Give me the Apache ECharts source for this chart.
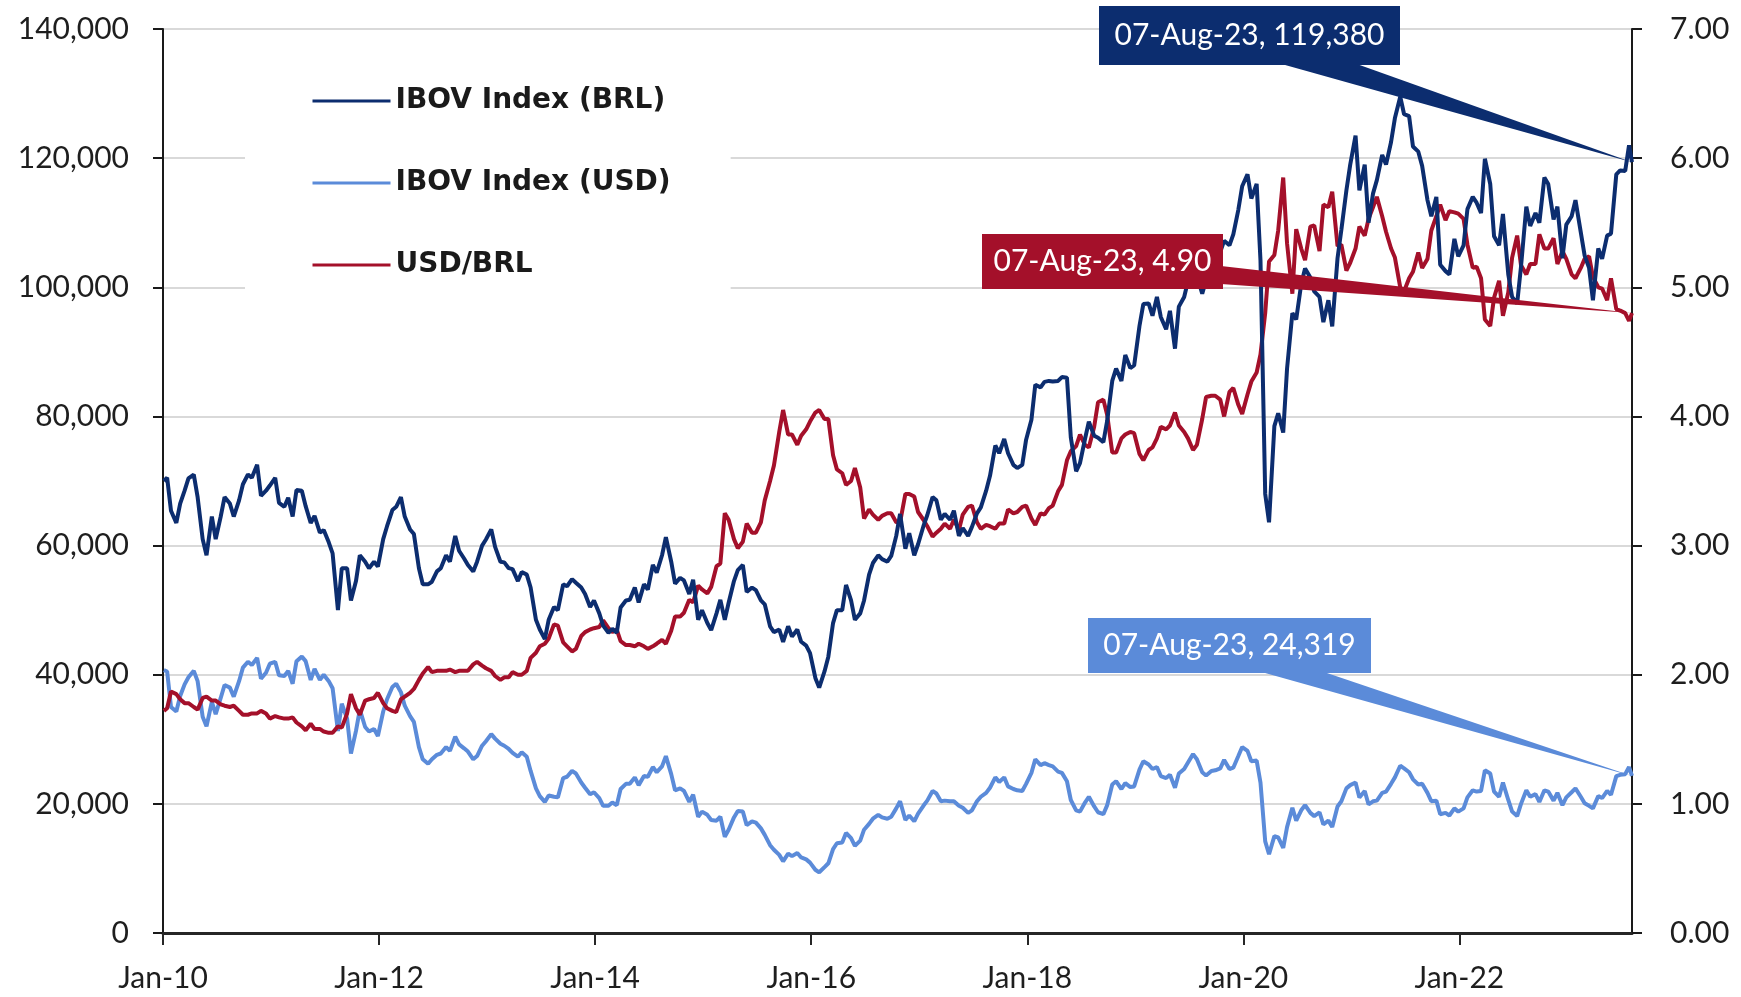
<!DOCTYPE html>
<html>
<head>
<meta charset="utf-8">
<script src="https://cdn.jsdelivr.net/npm/echarts@6/dist/echarts.min.js"></script>
<style>html,body{margin:0;padding:0;background:#fff}#c{width:1741px;height:997px}</style>
</head>
<body>
<div id="c"></div>
<script>
// ---- categories: semi-monthly observation dates ----
const startDate = '2010-01-04';
const endDate = '2023-08-07';
const dates = [startDate];
for (let y = 2010; y <= 2023; y++) {
  for (let m = 1; m <= 12; m++) {
    if (y === 2023 && m > 7) break;
    const mm = (m < 10 ? '0' : '') + m;
    dates.push(y + '-' + mm + '-15');
    dates.push(y + '-' + mm + '-28');
  }
}
dates.push(endDate);

// ---- series values ----
const ibovBRL = [70000,
70500,65400,63500,66500,68500,70400,71000,67500,61000,58500,64500,61000,64500,67500,66500,64500,67000,69500,71000,70500,72500,67700,68500,69300,
70500,66600,66000,67400,64500,68600,68500,66100,63500,64600,62000,62400,60500,58800,50000,56500,56500,51500,54500,58500,57500,56500,57500,56750,
61000,63000,65500,66000,67500,64500,62500,61800,56500,54000,54000,54400,56000,56500,58500,57500,61500,59200,58000,57000,56000,57500,60000,60950,
62500,59800,57500,57400,56500,56350,54500,55900,55500,53500,48500,47000,45500,48500,50500,50000,54000,53700,54800,54250,53500,52500,50500,51500,
49500,47600,46500,47100,46500,50400,51500,51600,53500,51200,54000,53200,57000,55800,58500,61300,57500,54100,55000,54600,52500,54700,48500,50000,
48000,46900,49500,51600,48500,51150,54500,56200,57000,52800,53500,53100,51500,50900,47500,46600,47000,45100,47500,45900,47000,45100,44500,43350,
39500,38000,40500,42800,48000,50000,50000,53900,51500,48500,49500,51500,55500,57300,58500,57900,57500,58400,61500,64900,59500,61900,58500,60200,
63000,64700,67500,67000,64000,64900,64000,65400,61500,62700,61500,62900,65000,65900,68500,70800,75500,74300,76500,74300,72500,72000,72500,76400,
79500,84900,84500,85350,85500,85400,85500,86100,86000,76750,71500,72760,76500,79200,77000,76700,76000,79340,85500,87400,85500,89500,87500,87900,
94000,97400,97500,95600,98500,95400,93500,96350,90500,97000,98500,100970,103500,101800,99000,101100,104500,104700,105500,107200,106500,108200,112000,115650,
117500,113760,116000,104170,68000,63600,78500,80500,77500,87400,96000,95000,100500,102900,101500,99370,98500,94600,98000,93950,104500,108900,115000,119000,
123500,115000,119000,110000,114500,116600,120500,119000,122500,126200,129500,126800,126500,121800,121000,118800,113500,111000,114000,103500,102500,102000,107500,104800,
106500,112100,114000,113100,111500,119900,116000,107900,106500,111350,102000,98500,97500,103200,112500,109500,111500,110000,117000,116000,110500,112500,104500,109700,
111000,113500,108500,104900,103000,98000,106000,104400,108000,108300,117500,118100,118000,122000,
119380];

const usdBRL = [1.72,
1.74,1.87,1.85,1.81,1.78,1.78,1.75,1.73,1.82,1.83,1.80,1.80,1.77,1.76,1.75,1.76,1.72,1.69,1.69,1.70,1.70,1.72,1.70,1.66,
1.68,1.67,1.66,1.66,1.67,1.63,1.60,1.57,1.62,1.58,1.58,1.56,1.55,1.55,1.60,1.59,1.70,1.85,1.74,1.69,1.80,1.81,1.82,1.86,
1.78,1.74,1.72,1.71,1.81,1.83,1.86,1.89,1.96,2.01,2.06,2.02,2.03,2.03,2.03,2.04,2.02,2.03,2.03,2.03,2.08,2.10,2.07,2.05,
2.03,1.99,1.96,1.98,1.98,2.02,2.00,2.00,2.03,2.13,2.17,2.22,2.24,2.28,2.39,2.38,2.25,2.22,2.18,2.20,2.30,2.33,2.35,2.36,
2.37,2.42,2.36,2.33,2.35,2.26,2.23,2.23,2.22,2.24,2.22,2.20,2.22,2.24,2.27,2.24,2.34,2.45,2.45,2.48,2.58,2.56,2.69,2.66,
2.63,2.68,2.84,2.86,3.25,3.20,3.05,2.98,3.03,3.17,3.10,3.10,3.18,3.35,3.50,3.62,3.88,4.05,3.86,3.86,3.78,3.85,3.90,3.96,
4.03,4.05,3.98,3.98,3.70,3.59,3.56,3.47,3.50,3.60,3.45,3.21,3.28,3.24,3.20,3.23,3.25,3.25,3.18,3.18,3.40,3.40,3.38,3.26,
3.20,3.15,3.07,3.10,3.13,3.17,3.13,3.20,3.12,3.24,3.30,3.31,3.18,3.13,3.16,3.15,3.13,3.17,3.17,3.28,3.25,3.26,3.30,3.31,
3.21,3.16,3.25,3.24,3.29,3.31,3.42,3.47,3.66,3.73,3.77,3.86,3.78,3.76,3.92,4.11,4.13,4.01,3.72,3.72,3.83,3.86,3.88,3.87,
3.71,3.66,3.74,3.76,3.83,3.92,3.90,3.93,4.03,3.93,3.88,3.83,3.74,3.78,3.98,4.15,4.16,4.16,4.13,4.00,4.19,4.22,4.09,4.02,
4.17,4.27,4.34,4.48,4.80,5.20,5.25,5.44,5.85,5.34,4.95,5.45,5.30,5.21,5.47,5.48,5.28,5.64,5.62,5.74,5.32,5.33,5.13,5.19,
5.30,5.47,5.40,5.53,5.62,5.70,5.55,5.43,5.30,5.23,5.00,4.97,5.07,5.12,5.27,5.15,5.22,5.44,5.55,5.64,5.52,5.59,5.58,5.57,
5.53,5.33,5.15,5.16,5.07,4.75,4.70,4.92,5.05,4.78,4.96,5.23,5.40,5.17,5.10,5.18,5.18,5.41,5.30,5.30,5.38,5.18,5.28,5.22,
5.10,5.07,5.15,5.22,5.24,5.08,5.00,4.99,4.90,5.07,4.83,4.82,4.80,4.74,
4.80];

const ibovUSD = [40700,
40500,35000,34300,36700,38500,39600,40600,39000,33500,32000,35800,33900,36400,38400,38000,36600,39000,41100,42000,41500,42600,39400,40300,41700,
42000,39900,39800,40600,38600,42100,42800,42100,39200,40900,39200,40000,39000,37900,31300,35500,33200,27800,31300,34600,31900,31200,31600,30500,
34300,36200,38100,38600,37300,35200,33600,32700,28800,26900,26200,26900,27600,27800,28800,28200,30400,29200,28600,28100,26900,27400,29000,29700,
30800,30100,29300,29000,28500,27900,27300,28000,27300,25100,22400,21200,20300,21300,21100,21000,24000,24200,25100,24700,23300,22500,21500,21800,
20900,19700,19700,20200,19800,22300,23100,23100,24100,22900,24300,24200,25700,24900,25800,27400,24600,22100,22400,22000,20300,21400,18000,18800,
18300,17500,17400,18000,14900,16000,17900,18900,18800,16700,17300,17100,16200,15200,13600,12900,12100,11100,12300,11900,12400,11700,11400,10900,
9800,9400,10200,10800,13000,13900,14000,15500,14700,13500,14300,16000,16900,17700,18300,17900,17700,18000,19300,20400,17500,18200,17300,18500,
19700,20500,22000,21600,20400,20500,20400,20400,19700,19400,18600,19000,20400,21100,21700,22500,24100,23400,24100,22700,22300,22100,22000,23100,
24800,26900,26000,26300,26000,25800,25000,24800,23500,20600,19000,18800,20200,21100,19600,18700,18400,19800,23000,23500,22300,23200,22600,22700,
25300,26600,26100,25400,25700,24300,24000,24500,22500,24700,25400,26400,27700,26900,24900,24400,25100,25200,25500,26800,25400,25600,27400,28800,
28200,26600,26700,23300,14200,12200,15000,14800,13200,16400,19400,17400,19000,19800,18600,18100,18700,16800,17400,16400,19600,20400,22400,22900,
23300,21000,22000,19900,20400,20500,21700,21900,23100,24100,25900,25500,24900,23800,23000,23100,21700,20400,20500,18400,18600,18200,19300,18800,
19300,21000,22100,21900,22000,25200,24700,21900,21100,23300,20600,18800,18100,20000,22100,21100,21500,20300,22100,21900,20500,21700,19800,21000,
21800,22400,21100,20100,19700,19300,21200,20900,22000,21400,24300,24500,24600,25700,
24319];

// ---- labels ----
const seriesNames = ['IBOV Index (BRL)', 'IBOV Index (USD)', 'USD/BRL'];
const calloutBRL = '07-Aug-23, 119,380';
const calloutUSD = '07-Aug-23, 24,319';
const calloutFX = '07-Aug-23, 4.90';

const C_BRL = '#0c2d6f', C_USD = '#5b8bd9', C_FX = '#a4102a';

function toYear(s) {
  const d = new Date(s + 'T00:00:00Z');
  const y = d.getUTCFullYear();
  const a = Date.UTC(y, 0, 1), b = Date.UTC(y + 1, 0, 1);
  return y + (d.getTime() - a) / (b - a);
}
const xs = dates.map(toYear);
const pair = arr => arr.map((v, i) => [xs[i], v]);

const chart = echarts.init(document.getElementById('c'), null, {renderer: 'canvas'});
const tickFont = {fontFamily: 'Lato', fontSize: 30, color: '#1e1e1e'};
const LW = 4;

chart.setOption({
  animation: false,
  backgroundColor: '#fff',
  grid: {left: 163, right: 109, top: 29, bottom: 64, containLabel: false},
  legend: {
    orient: 'vertical', left: 245, top: 56,
    padding: [30, 60, 22, 66],
    backgroundColor: '#fff',
    itemWidth: 78, itemHeight: 30, itemGap: 52,
    itemStyle: {opacity: 0},
    lineStyle: {width: 3},
    data: seriesNames,
    textStyle: {fontFamily: 'DejaVu Sans', fontWeight: 'bold', fontSize: 28, color: '#1a1a1a', lineHeight: 30}
  },
  xAxis: {
    type: 'value', min: 2010, max: xs[xs.length - 1], interval: 2,
    axisLine: {show: true, onZero: false, lineStyle: {color: '#262626', width: 3}},
    axisTick: {show: true, length: 12, lineStyle: {color: '#262626', width: 2}},
    axisLabel: Object.assign({}, tickFont, {
      margin: 30, showMaxLabel: false,
      formatter: v => {
        const r = Math.round(v);
        return (Math.abs(v - r) < 1e-6 && r % 2 === 0) ? 'Jan-' + String(r).slice(2) : '';
      }
    }),
    splitLine: {show: false}
  },
  yAxis: [{
    type: 'value', min: 0, max: 140000, interval: 20000, position: 'left',
    axisLine: {show: true, lineStyle: {color: '#1a1a1a', width: 2}},
    axisTick: {show: true, length: 10, lineStyle: {color: '#1a1a1a', width: 2}},
    axisLabel: Object.assign({}, tickFont, {margin: 34, formatter: v => v.toLocaleString('en-US')}),
    splitLine: {show: true, lineStyle: {color: '#d9d9d9', width: 2}}
  }, {
    type: 'value', min: 0, max: 7, interval: 1, position: 'right',
    axisLine: {show: true, lineStyle: {color: '#1a1a1a', width: 2}},
    axisTick: {show: true, length: 10, lineStyle: {color: '#1a1a1a', width: 2}},
    axisLabel: Object.assign({}, tickFont, {margin: 38, formatter: v => v.toFixed(2)}),
    splitLine: {show: false}
  }],
  series: [
    {name: seriesNames[1], type: 'line', yAxisIndex: 0, data: pair(ibovUSD), symbol: 'none',
     lineStyle: {color: C_USD, width: LW}, itemStyle: {color: C_USD}, z: 2},
    {name: seriesNames[2], type: 'line', yAxisIndex: 1, data: pair(usdBRL), symbol: 'none',
     lineStyle: {color: C_FX, width: LW}, itemStyle: {color: C_FX}, z: 3},
    {name: seriesNames[0], type: 'line', yAxisIndex: 0, data: pair(ibovBRL), symbol: 'none',
     lineStyle: {color: C_BRL, width: LW}, itemStyle: {color: C_BRL}, z: 4}
  ]
});

// ---- callouts (tips computed from data through the axes) ----
const li = xs.length - 1;
const tipB = chart.convertToPixel({xAxisIndex: 0, yAxisIndex: 0}, [xs[li], ibovBRL[li]]);
const tipU = chart.convertToPixel({xAxisIndex: 0, yAxisIndex: 0}, [xs[li], ibovUSD[li]]);
const tipF = chart.convertToPixel({xAxisIndex: 0, yAxisIndex: 1}, [xs[li], usdBRL[li]]);

function callout(box, base, tip, color, text) {
  return [
    {type: 'polygon', z: 100, shape: {points: [base[0], base[1], tip]}, style: {fill: color}},
    {type: 'rect', z: 101, shape: {x: box[0], y: box[1], width: box[2], height: box[3]}, style: {fill: color}},
    {type: 'text', z: 102, x: box[0] + box[2] / 2, y: box[1] + box[3] / 2,
     style: {text: text, fill: '#ffffff', font: '30px Lato', align: 'center', verticalAlign: 'middle'}}
  ];
}
const g = [].concat(
  callout([1099, 6, 301, 59], [[1278, 63], [1354, 63]], tipB, C_BRL, calloutBRL),
  callout([982, 234, 241, 55], [[1221, 266], [1221, 284]], tipF, C_FX, calloutFX),
  callout([1088, 618, 283, 55], [[1258, 671], [1321, 671]], tipU, C_USD, calloutUSD)
);
chart.setOption({graphic: g});
</script>
</body>
</html>
